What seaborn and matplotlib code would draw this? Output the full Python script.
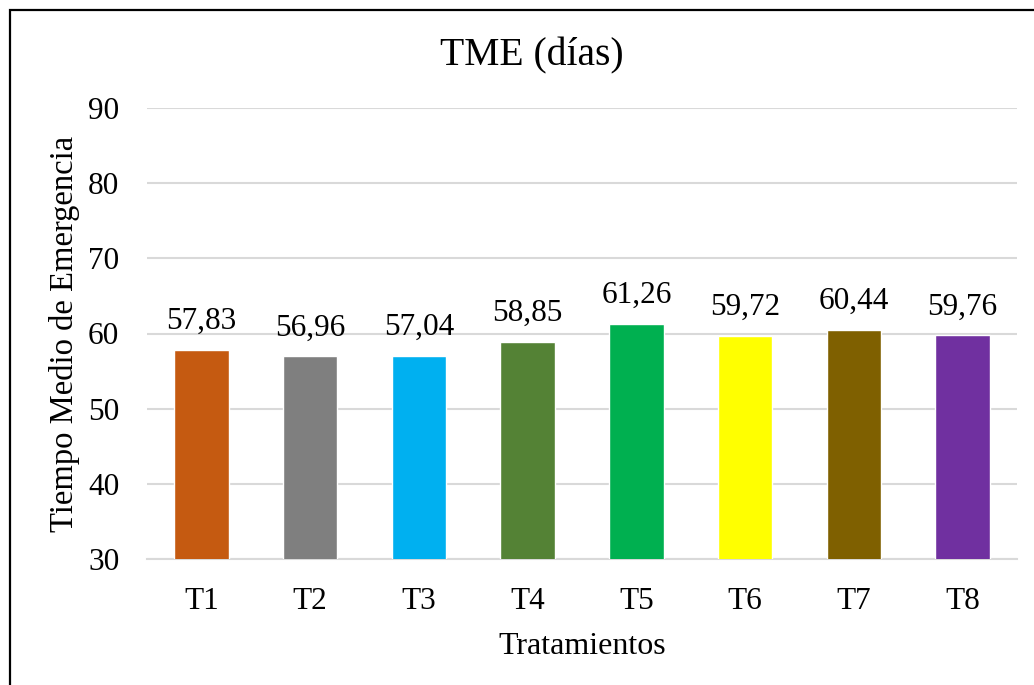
import matplotlib
matplotlib.use("Agg")
import matplotlib.pyplot as plt
import pandas as pd
import seaborn as sns
from matplotlib.patches import Rectangle

tratamientos = ["T1", "T2", "T3", "T4", "T5", "T6", "T7", "T8"]
tme_dias = [57.83, 56.96, 57.04, 58.85, 61.26, 59.72, 60.44, 59.76]
colores = ["#C55A11", "#7F7F7F", "#00B0F0", "#548235",
           "#00B050", "#FFFF00", "#7F6000", "#7030A0"]
y_ticks = [30, 40, 50, 60, 70, 80, 90]

sns.set_theme(style="white")
plt.rcParams["font.family"] = ["Liberation Serif", "DejaVu Serif"]

df = pd.DataFrame({"Tratamiento": tratamientos, "TME": tme_dias})

fig = plt.figure(figsize=(10.34, 6.85), dpi=100)
ax = fig.add_axes([147 / 1034, 1 - 559 / 685, 870 / 1034, 451 / 685])

sns.barplot(data=df, x="Tratamiento", y="TME", hue="Tratamiento",
            palette=colores, legend=False, width=0.5, dodge=False,
            saturation=1, ax=ax, zorder=3)

for cont in ax.containers:
    ax.bar_label(cont, labels=[f"{v:.2f}".replace(".", ",") for v in cont.datavalues],
                 padding=10, fontsize=22.5, color="#000000")

ax.set_ylim(30, 90)
ax.set_xlim(-0.5, len(tratamientos) - 0.5)
ax.set_yticks(y_ticks)
ax.yaxis.grid(True, color="#D9D9D9", linewidth=1.5, zorder=0)
ax.set_axisbelow(True)
for s in ["top", "right", "left"]:
    ax.spines[s].set_visible(False)
ax.spines["bottom"].set_color("#D9D9D9")
ax.spines["bottom"].set_linewidth(1.5)
ax.tick_params(axis="both", length=0, labelsize=22.5, colors="#000000")
ax.tick_params(axis="x", pad=20)
ax.tick_params(axis="y", pad=20)

ax.set_xlabel("Tratamientos", fontsize=23, labelpad=12, color="#000000")
ax.set_ylabel("Tiempo Medio de Emergencia", fontsize=23.5, labelpad=6, color="#000000")
fig.text(532 / 1034, 1 - 56 / 685, "TME (días)", ha="center", va="center",
         fontsize=28.5, color="#000000")

fig.patches.append(Rectangle((10 / 1034, -0.1), 1.1, 1 - 10 / 685 + 0.1,
                             transform=fig.transFigure, fill=False,
                             edgecolor="#000000", linewidth=1.6))

fig.savefig("out.png", dpi=100, facecolor="white")
